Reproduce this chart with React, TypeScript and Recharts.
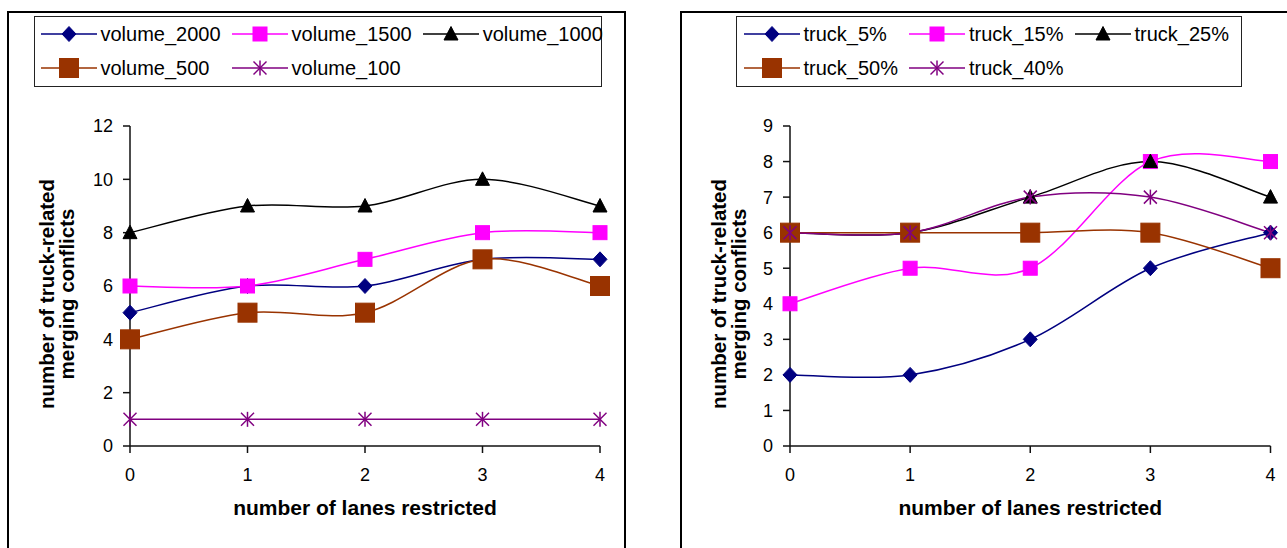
import React from 'react';
import { LineChart, Line, XAxis, YAxis, Legend, Label } from 'recharts';

// ---------- data ----------
const lanes = [0, 1, 2, 3, 4];
const laneTicks = [0, 1, 2, 3, 4];

const volumeNames = ['volume_2000', 'volume_1500', 'volume_1000', 'volume_500', 'volume_100'];
const volume2000 = [5, 6, 6, 7, 7];
const volume1500 = [6, 6, 7, 8, 8];
const volume1000 = [8, 9, 9, 10, 9];
const volume500 = [4, 5, 5, 7, 6];
const volume100 = [1, 1, 1, 1, 1];
const volumeTicks = [0, 2, 4, 6, 8, 10, 12];

const truckNames = ['truck_5%', 'truck_15%', 'truck_25%', 'truck_50%', 'truck_40%'];
const truck5 = [2, 2, 3, 5, 6];
const truck15 = [4, 5, 5, 8, 8];
const truck25 = [6, 6, 7, 8, 7];
const truck50 = [6, 6, 6, 6, 5];
const truck40 = [6, 6, 7, 7, 6];
const truckTicks = [0, 1, 2, 3, 4, 5, 6, 7, 8, 9];

const seriesColors = ['#000080', '#FF00FF', '#000000', '#993300', '#800080'];
const seriesShapes = ['diamond', 'square', 'triangle', 'bigSquare', 'star'];

const xTitle = 'number of lanes restricted';
const yTitleLine1 = 'number of truck-related';
const yTitleLine2 = 'merging conflicts';

const FONT = '"Liberation Sans", Arial, Helvetica, sans-serif';

function buildRows(names: string[], values: number[][]) {
  return lanes.map((lane, i) => {
    const row: Record<string, number> = { lane };
    names.forEach((n, j) => {
      row[n] = values[j][i];
    });
    return row;
  });
}

const volumeRows = buildRows(volumeNames, [volume2000, volume1500, volume1000, volume500, volume100]);
const truckRows = buildRows(truckNames, [truck5, truck15, truck25, truck50, truck40]);

// ---------- Excel-like smoothed curve (Catmull-Rom) ----------
function excelSmooth(context: any) {
  let pts: number[][] = [];
  return {
    areaStart() {},
    areaEnd() {},
    lineStart() {
      pts = [];
    },
    point(x: number, y: number) {
      pts.push([+x, +y]);
    },
    lineEnd() {
      const n = pts.length;
      if (!n) return;
      context.moveTo(pts[0][0], pts[0][1]);
      for (let i = 0; i < n - 1; i++) {
        const p0 = pts[i === 0 ? 0 : i - 1];
        const p1 = pts[i];
        const p2 = pts[i + 1];
        const p3 = pts[i + 2 < n ? i + 2 : n - 1];
        const c1x = p1[0] + (p2[0] - p0[0]) / 6;
        const c1y = p1[1] + (p2[1] - p0[1]) / 6;
        const c2x = p2[0] - (p3[0] - p1[0]) / 6;
        const c2y = p2[1] - (p3[1] - p1[1]) / 6;
        context.bezierCurveTo(c1x, c1y, c2x, c2y, p2[0], p2[1]);
      }
    },
  };
}

// ---------- markers ----------
function Marker({ shape, color, cx, cy }: { shape: string; color: string; cx: number; cy: number }) {
  if (cx == null || cy == null) return null;
  switch (shape) {
    case 'diamond':
      return (
        <polygon
          points={`${cx},${cy - 7.5} ${cx + 7},${cy} ${cx},${cy + 7.5} ${cx - 7},${cy}`}
          fill={color}
          stroke={color}
          strokeWidth={1}
        />
      );
    case 'square':
      return <rect x={cx - 7} y={cy - 7} width={14} height={14} fill={color} stroke={color} strokeWidth={1} />;
    case 'bigSquare':
      return <rect x={cx - 9.5} y={cy - 9.5} width={19} height={19} fill={color} stroke={color} strokeWidth={1} />;
    case 'triangle':
      return (
        <polygon
          points={`${cx},${cy - 7.5} ${cx + 7},${cy + 6} ${cx - 7},${cy + 6}`}
          fill={color}
          stroke={color}
          strokeWidth={1}
        />
      );
    case 'star':
      return (
        <g stroke={color} strokeWidth={1.5} fill="none">
          <line x1={cx} y1={cy - 7.5} x2={cx} y2={cy + 7.5} />
          <line x1={cx - 6.5} y1={cy - 6.5} x2={cx + 6.5} y2={cy + 6.5} />
          <line x1={cx - 6.5} y1={cy + 6.5} x2={cx + 6.5} y2={cy - 6.5} />
        </g>
      );
    default:
      return null;
  }
}

// ---------- legend ----------
function LegendBox({
  payload,
  names,
  width,
  padLeft,
}: {
  payload?: any[];
  names: string[];
  width: number;
  padLeft: number;
}) {
  const items = [...(payload || [])].sort((a: any, b: any) => names.indexOf(a.value) - names.indexOf(b.value));
  return (
    <div
      style={{
        boxSizing: 'border-box',
        width,
        height: 71,
        border: '1px solid #222',
        background: '#fff',
        paddingLeft: padLeft,
        display: 'grid',
        gridTemplateColumns: 'max-content max-content max-content',
        columnGap: 11,
        alignContent: 'start',
        fontFamily: FONT,
      }}
    >
      {items.map((entry: any, i: number) => {
        const idx = names.indexOf(entry.value);
        const k = idx >= 0 ? idx : i;
        const color = seriesColors[k];
        return (
          <div key={entry.value} style={{ height: 34, display: 'flex', alignItems: 'center' }}>
            <svg width={56} height={22} style={{ display: 'block' }}>
              <line x1={0} y1={11} x2={56} y2={11} stroke={color} strokeWidth={1.5} />
              <Marker shape={seriesShapes[k]} color={color} cx={28} cy={11} />
            </svg>
            <span style={{ fontSize: 20, marginLeft: 4, lineHeight: 1, whiteSpace: 'nowrap', color: '#000' }}>
              {entry.value}
            </span>
          </div>
        );
      })}
    </div>
  );
}

// ---------- chart panel ----------
type PanelProps = {
  rows: Record<string, number>[];
  names: string[];
  ticks: number[];
  yMax: number;
  width: number;
  height: number;
  marginLeft: number;
  marginRight: number;
  legendLeft: number;
  legendWidth: number;
  legendPad: number;
  titleX1: number;
  titleX2: number;
};

function Panel(p: PanelProps) {
  const tickStyle = { fontSize: 18, fill: '#000', fontFamily: FONT };
  const axisStroke = { stroke: '#111', strokeWidth: 1.5 };
  return (
    <LineChart
      width={p.width}
      height={p.height}
      data={p.rows}
      margin={{ top: 115, right: p.marginRight, bottom: 42, left: p.marginLeft }}
    >
      <XAxis
        xAxisId="top"
        orientation="top"
        type="number"
        dataKey="lane"
        domain={[0, 4]}
        ticks={laneTicks}
        tick={false}
        tickLine={false}
        height={0}
        axisLine={{ stroke: '#999', strokeWidth: 1.5 }}
      />
      <YAxis
        yAxisId="right"
        orientation="right"
        type="number"
        domain={[0, p.yMax]}
        ticks={p.ticks}
        tick={false}
        tickLine={false}
        width={0}
        axisLine={{ stroke: '#999', strokeWidth: 1.5 }}
      />
      <XAxis
        type="number"
        dataKey="lane"
        domain={[0, 4]}
        ticks={laneTicks}
        interval={0}
        tickSize={7}
        tickMargin={15}
        height={60}
        tick={tickStyle}
        axisLine={axisStroke}
        tickLine={axisStroke}
      >
        <Label
          content={(lp: any) => {
            const vb = lp.viewBox || {};
            return (
              <text
                x={vb.x + vb.width / 2}
                y={vb.y + 69}
                textAnchor="middle"
                fontFamily={FONT}
                fontWeight="bold"
                fontSize={21}
                fill="#000"
              >
                {xTitle}
              </text>
            );
          }}
        />
      </XAxis>
      <YAxis
        type="number"
        domain={[0, p.yMax]}
        ticks={p.ticks}
        interval={0}
        tickSize={7}
        tickMargin={10}
        width={60}
        tick={tickStyle}
        axisLine={axisStroke}
        tickLine={axisStroke}
      >
        <Label
          content={(lp: any) => {
            const vb = lp.viewBox || {};
            const cy = vb.y + vb.height / 2 + 8;
            return (
              <g fontFamily={FONT} fontWeight="bold" fontSize={20.5} fill="#000">
                <text x={p.titleX1} y={cy} textAnchor="middle" transform={`rotate(-90 ${p.titleX1} ${cy})`}>
                  {yTitleLine1}
                </text>
                <text x={p.titleX2} y={cy} textAnchor="middle" transform={`rotate(-90 ${p.titleX2} ${cy})`}>
                  {yTitleLine2}
                </text>
              </g>
            );
          }}
        />
      </YAxis>
      <Legend
        layout="horizontal"
        align="center"
        verticalAlign="middle"
        wrapperStyle={{ top: 5, left: p.legendLeft, width: 'auto', height: 'auto' }}
        content={(lp: any) => (
          <LegendBox payload={lp.payload} names={p.names} width={p.legendWidth} padLeft={p.legendPad} />
        )}
      />
      {p.names.map((name, j) => (
        <Line
          key={name}
          dataKey={name}
          name={name}
          type={excelSmooth as any}
          stroke={seriesColors[j]}
          strokeWidth={1.5}
          isAnimationActive={false}
          activeDot={false}
          dot={(dp: any) => (
            <Marker key={`${name}-${dp.index}`} shape={seriesShapes[j]} color={seriesColors[j]} cx={dp.cx} cy={dp.cy} />
          )}
        />
      ))}
    </LineChart>
  );
}

export default function App() {
  return (
    <div
      style={{
        position: 'absolute',
        left: 0,
        top: 0,
        width: 1287,
        height: 548,
        overflow: 'hidden',
        background: '#fff',
      }}
    >
      <div
        style={{
          position: 'absolute',
          left: 7,
          top: 11,
          width: 619,
          height: 560,
          boxSizing: 'border-box',
          border: '2px solid #000',
        }}
      />
      <div
        style={{
          position: 'absolute',
          left: 680,
          top: 11,
          width: 700,
          height: 560,
          boxSizing: 'border-box',
          border: '2px solid #000',
        }}
      />
      <div style={{ position: 'absolute', left: 7, top: 11 }}>
        <Panel
          rows={volumeRows}
          names={volumeNames}
          ticks={volumeTicks}
          yMax={12}
          width={618}
          height={537}
          marginLeft={63}
          marginRight={25}
          legendLeft={26.5}
          legendWidth={568}
          legendPad={6}
          titleX1={47}
          titleX2={67}
        />
      </div>
      <div style={{ position: 'absolute', left: 680, top: 11 }}>
        <Panel
          rows={truckRows}
          names={truckNames}
          ticks={truckTicks}
          yMax={9}
          width={607}
          height={537}
          marginLeft={50}
          marginRight={16.5}
          legendLeft={55.5}
          legendWidth={506}
          legendPad={7}
          titleX1={46}
          titleX2={66}
        />
      </div>
    </div>
  );
}
